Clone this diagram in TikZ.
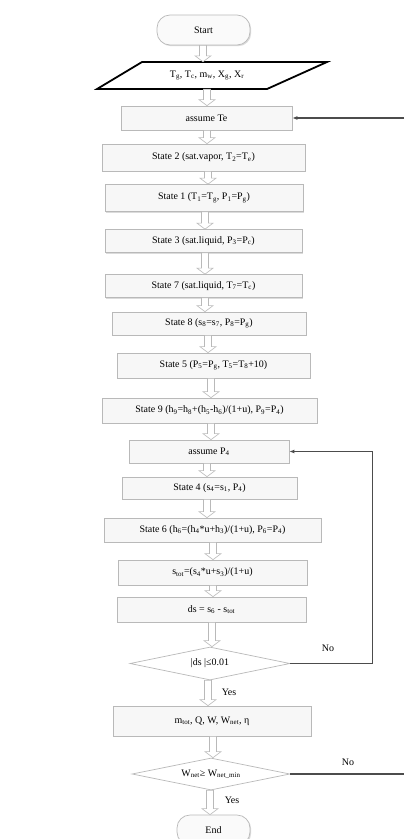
\documentclass[tikz,border=0pt]{standalone}
\usepackage{fontspec}
\setmainfont{Liberation Serif}
\usetikzlibrary{shapes.geometric,arrows.meta,calc}
\newcommand\sbs[1]{\textsubscript{#1}}
\newcommand\harr[3]{\draw[harrow] let \p1=(#3,0), \p2=(#1.south), \p3=(#2.north) in
  (\x1-3.5bp,\y2) -- (\x1+3.5bp,\y2) -- (\x1+3.5bp,\y3+6bp) -- (\x1+8bp,\y3+6bp) --
  (\x1,\y3) -- (\x1-8bp,\y3+6bp) -- (\x1-3.5bp,\y3+6bp) -- cycle;}
\begin{document}
\begin{tikzpicture}[x=1bp,y=-1bp,font=\fontsize{10}{12}\selectfont,
  shade/.style={preaction={fill=gray!28, transform canvas={shift={(1.2bp,-1.2bp)}}}},
  box/.style={shade, draw=gray!55, fill=gray!6, line width=0.7bp, inner sep=0pt},
  term/.style={box, fill=gray!4, rounded corners=13bp},
  dec/.style={shape=diamond, draw=gray!55, fill=white, line width=0.7bp, inner sep=0pt, aspect=4.8},
  harrow/.style={draw=gray!55, fill=white, line width=0.6bp},
  loopline/.style={draw=black!70, line width=1.1bp},
  looparrow/.style={loopline, -{Latex[length=5bp,width=4bp]}},
  lbl/.style={inner sep=0pt}]
\useasboundingbox (0,0) rectangle (404,839);
\fill[white] (0,0) rectangle (404,839);
% nodes
\node[term, minimum width=93bp, minimum height=30bp] (start) at (203.5,30) {Start};
\node[inner sep=0pt, minimum width=170bp, minimum height=27bp] (inp) at (207,75.5) {};
\draw[line width=1.8bp, line join=miter] (142,62) -- (327,62) -- (267,89) -- (97,89) -- cycle;
\node at (inp.center) {T\sbs{g}, T\sbs{c}, m\sbs{w}, X\sbs{g}, X\sbs{r}};
\node[box, minimum width=171bp, minimum height=24bp] (te) at (206.5,118) {assume Te};
\node[box, minimum width=203bp, minimum height=27bp] (s2) at (203.5,157.5) {State 2 (sat.vapor, T\sbs{2}=T\sbs{e})};
\node[box, minimum width=198bp, minimum height=27bp] (s1) at (204,198) {State 1 (T\sbs{1}=T\sbs{g}, P\sbs{1}=P\sbs{g})};
\node[box, minimum width=197bp, minimum height=23bp] (s3) at (203.5,241) {State 3 (sat.liquid, P\sbs{3}=P\sbs{c})};
\node[box, minimum width=197bp, minimum height=23bp] (s7) at (203.5,286) {State 7 (sat.liquid, T\sbs{7}=T\sbs{c})};
\node[box, minimum width=194bp, minimum height=23bp] (s8) at (209,323.5) {State 8 (s\sbs{8}=s\sbs{7}, P\sbs{8}=P\sbs{g})};
\node[box, minimum width=193bp, minimum height=25bp] (s5) at (213.5,365.5) {State 5 (P\sbs{5}=P\sbs{g}, T\sbs{5}=T\sbs{8}+10)};
\node[box, minimum width=215bp, minimum height=25bp] (s9) at (209.5,410.5) {State 9 (h\sbs{9}=h\sbs{8}+(h\sbs{5}-h\sbs{6})/(1+u), P\sbs{9}=P\sbs{4})};
\node[box, minimum width=160bp, minimum height=23bp] (p4) at (209,451.5) {assume P\sbs{4}};
\node[box, minimum width=175bp, minimum height=22bp] (s4) at (209.5,488) {State 4 (s\sbs{4}=s\sbs{1}, P\sbs{4})};
\node[box, minimum width=217bp, minimum height=24bp] (s6) at (212.5,530) {State 6 (h\sbs{6}=(h\sbs{4}*u+h\sbs{3})/(1+u), P\sbs{6}=P\sbs{4})};
\node[box, minimum width=189bp, minimum height=25bp] (st) at (212.5,572.5) {s\sbs{tot}=(s\sbs{4}*u+s\sbs{3})/(1+u)};
\node[box, minimum width=189bp, minimum height=25bp] (ds) at (211.5,609.5) {ds = s\sbs{6} - s\sbs{tot}};
\node[dec, minimum width=160bp, minimum height=33bp] (d1) at (210,663.5) {|ds |≤0.01};
\node[box, minimum width=198bp, minimum height=30bp] (mt) at (212,721) {m\sbs{tot}, Q, W, W\sbs{net}, η};
\node[dec, minimum width=158bp, minimum height=32bp] (d2) at (211,774) {W\sbs{net}≥ W\sbs{net\_min}};
\node[term, minimum width=73bp, minimum height=30bp] (end) at (213.5,830) {End};
% hollow flow arrows
\harr{start}{inp}{203}
\harr{inp}{te}{207}
\harr{te}{s2}{207}
\harr{s2}{s1}{208}
\harr{s1}{s3}{205}
\harr{s3}{s7}{205}
\harr{s7}{s8}{205}
\harr{s8}{s5}{208}
\harr{s5}{s9}{211}
\harr{s9}{p4}{211}
\harr{p4}{s4}{207}
\harr{s4}{s6}{207}
\harr{s6}{st}{213}
\harr{st}{ds}{213}
\harr{ds}{d1}{212}
\harr{d1}{mt}{208}
\harr{mt}{d2}{213}
\harr{d2}{end}{210}
% loops
\coordinate (r1) at (404,118);
\draw[looparrow] (r1) -- (te.east);
\draw[looparrow] (d1.east) -- ++(82,0) |- (p4.east);
\coordinate (r2) at (404,774);
\draw[loopline] (d2.east) -- (r2);
% labels
\node[lbl] (no1) at (328,648) {No};
\node[lbl] (no2) at (348,762) {No};
\node[lbl] (yes1) at (229,692) {Yes};
\node[lbl] (yes2) at (232,800) {Yes};
\end{tikzpicture}
\end{document}
